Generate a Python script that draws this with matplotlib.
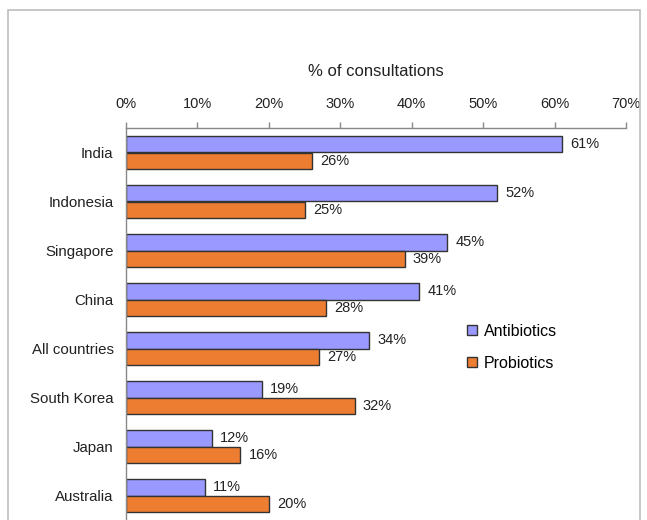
import matplotlib
matplotlib.use("Agg")
import matplotlib.pyplot as plt
from matplotlib.lines import Line2D
from matplotlib.patches import Rectangle
from matplotlib.ticker import FuncFormatter
import numpy as np

categories = ["India", "Indonesia", "Singapore", "China", "All countries",
              "South Korea", "Japan", "Australia"]
antibiotics = [61, 52, 45, 41, 34, 19, 12, 11]
probiotics = [26, 25, 39, 28, 27, 32, 16, 20]
series_names = ["Antibiotics", "Probiotics"]
x_ticks = [0, 10, 20, 30, 40, 50, 60, 70]
title = "% of consultations"

plt.rcParams['font.family'] = ['Liberation Sans', 'DejaVu Sans']

W, H = 647, 520
fig = plt.figure(figsize=(W / 100, H / 100), dpi=100)

# figure frame
fig.patches.append(Rectangle((8 / W, -0.01), (640 - 8) / W, 1 - 10 / H + 0.01,
                             transform=fig.transFigure, fill=False,
                             edgecolor="#BDBDBD", linewidth=1.2))

ax = fig.add_axes([126 / W, 0, (626 - 126) / W, 1 - 128 / H])

c_anti = "#9999FF"
c_pro = "#ED7D31"
edge = "#333333"
y = np.arange(len(categories))
h = 0.34
b1 = ax.barh(y - h / 2, antibiotics, height=h, color=c_anti, edgecolor=edge, linewidth=1.0)
b2 = ax.barh(y + h / 2, probiotics, height=h, color=c_pro, edgecolor=edge, linewidth=1.0)

for rects, vals in ((b1, antibiotics), (b2, probiotics)):
    for r, v in zip(rects, vals):
        ax.annotate(f"{v}%", (v, r.get_y() + r.get_height() / 2),
                    xytext=(6, 0), textcoords="offset points",
                    ha="left", va="center", fontsize=10.5, color="#222222")

ax.set_xlim(0, 70)
ax.set_ylim(len(categories) - 0.5, -0.5)
ax.set_xticks(x_ticks)
ax.xaxis.set_major_formatter(FuncFormatter(lambda v, p: f"{int(v)}%"))
ax.xaxis.tick_top()
ax.tick_params(axis="x", direction="out", length=4, width=1, color="#888888",
               labelsize=10.5, labelcolor="#222222", pad=8)
ax.set_yticks(y)
ax.set_yticklabels(categories)
ax.tick_params(axis="y", length=0, labelsize=10.8, labelcolor="#222222", pad=9)
for s in ("right", "bottom"):
    ax.spines[s].set_visible(False)
for s in ("top", "left"):
    ax.spines[s].set_color("#888888")
    ax.spines[s].set_linewidth(1.0)

fig.text(376 / W, 1 - 72 / H, title, ha="center", va="center",
         fontsize=12, color="#222222")

handles = [Line2D([], [], marker="s", linestyle="none", markersize=7,
                  markerfacecolor=c, markeredgecolor=edge, markeredgewidth=1.0)
           for c in (c_anti, c_pro)]
leg = fig.legend(handles, series_names, loc="upper left",
                 bbox_to_anchor=(458 / W, 1 - 316 / H), frameon=False,
                 fontsize=11.5, handlelength=0.8, handletextpad=0.3,
                 labelspacing=1.05, borderpad=0)

fig.savefig("out.png", dpi=100)
